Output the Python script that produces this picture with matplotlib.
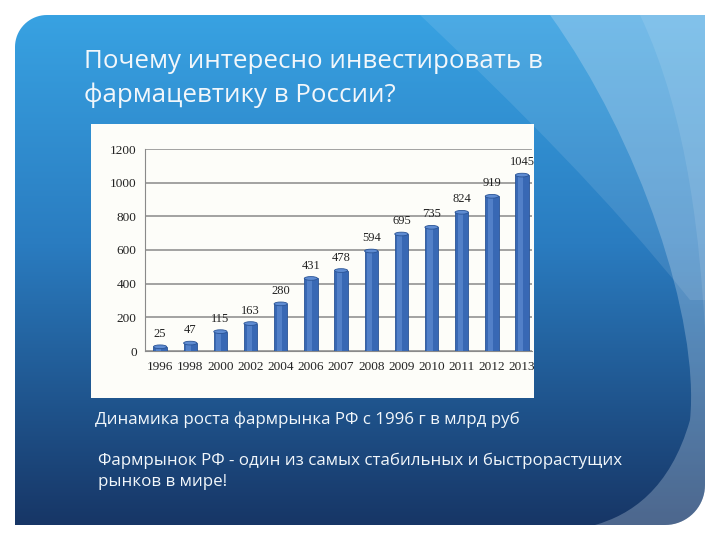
import numpy as np
import matplotlib.pyplot as plt
from matplotlib.patches import Rectangle, Ellipse, PathPatch
from matplotlib.path import Path

years = ["1996", "1998", "2000", "2002", "2004", "2006", "2007",
         "2008", "2009", "2010", "2011", "2012", "2013"]
market = [25, 47, 115, 163, 280, 431, 478, 594, 695, 735, 824, 919, 1045]
y_ticks = [0, 200, 400, 600, 800, 1000, 1200]

title_lines = ["Почему интересно инвестировать в", "фармацевтику в России?"]
caption = "Динамика роста фармрынка РФ с 1996 г в млрд руб"
note_lines = ["Фармрынок РФ - один из самых стабильных и быстрорастущих",
              "рынков в мире!"]

W, H = 720, 540
fig = plt.figure(figsize=(7.2, 5.4), dpi=100)
fig.patch.set_facecolor("white")

# --- slide background (pixel coords, y down) ---
bg = fig.add_axes([0, 0, 1, 1])
bg.set_xlim(0, W)
bg.set_ylim(H, 0)
bg.axis("off")

left, right, top, bottom = 15, 705, 15, 525
r1, r2 = 32, 40
t1 = np.linspace(np.pi, 1.5 * np.pi, 20)
t2 = np.linspace(0, 0.5 * np.pi, 20)
verts = [(left, bottom)]
verts += list(zip(left + r1 + r1 * np.cos(t1), top + r1 + r1 * np.sin(t1)))
verts += [(right, top)]
verts += list(zip(right - r2 + r2 * np.cos(t2), bottom - r2 + r2 * np.sin(t2)))
verts += [(left, bottom)]
slide = Path(verts, closed=True)
slide_patch = PathPatch(slide, facecolor="none", edgecolor="none")
bg.add_patch(slide_patch)

c_top = np.array([0x38, 0xa2, 0xe2]) / 255
c_mid = np.array([0x2a, 0x7c, 0xc0]) / 255
c_bot = np.array([0x17, 0x36, 0x66]) / 255
s = np.linspace(0, 1, 256)[:, None]
grad = np.where(s < 0.45, c_top + (c_mid - c_top) * (s / 0.45),
                c_mid + (c_bot - c_mid) * ((s - 0.45) / 0.55))
img = bg.imshow(grad[:, None, :], extent=[left, right, bottom, top],
                aspect="auto", zorder=0)
img.set_clip_path(slide_patch)

C4 = Path.CURVE4
# upper light band
band1 = Path([(420, 15), (520, 110), (610, 200), (690, 300),
              (705, 300), (705, 15), (420, 15)],
             [Path.MOVETO, C4, C4, C4, Path.LINETO, Path.LINETO, Path.CLOSEPOLY])
p1 = PathPatch(band1, facecolor="white", alpha=0.10, edgecolor="none", zorder=1)
bg.add_patch(p1)
p1.set_clip_path(slide_patch)
# right swoosh
band2 = Path([(550, 15), (640, 140), (700, 320), (690, 420),
              (670, 490), (630, 515), (595, 525),
              (705, 525), (705, 15), (550, 15)],
             [Path.MOVETO, C4, C4, C4, C4, C4, C4,
              Path.LINETO, Path.LINETO, Path.CLOSEPOLY])
p2 = PathPatch(band2, facecolor="#dbe8f5", alpha=0.28, edgecolor="none", zorder=1)
bg.add_patch(p2)
p2.set_clip_path(slide_patch)
band3 = Path([(640, 15), (690, 120), (700, 250), (705, 330),
              (705, 15), (640, 15)],
             [Path.MOVETO, C4, C4, C4, Path.LINETO, Path.CLOSEPOLY])
p3 = PathPatch(band3, facecolor="white", alpha=0.10, edgecolor="none", zorder=1)
bg.add_patch(p3)
p3.set_clip_path(slide_patch)

# chart panel
bg.add_patch(Rectangle((91, 124), 443, 274, facecolor="#fdfdf9",
                       edgecolor="none", zorder=2))

txt = "#f2f7fb"
for i, line in enumerate(title_lines):
    bg.text(84, 62 + 33 * i, line, color=txt, fontsize=18.6, family="Open Sans",
            va="center", ha="left", zorder=3)
bg.text(95, 420, caption, color=txt, fontsize=12.2, family="Open Sans",
        va="center", ha="left", zorder=3)
for i, line in enumerate(note_lines):
    bg.text(98, 461 + 21 * i, line, color=txt, fontsize=12.2, family="Open Sans",
            va="center", ha="left", zorder=3)

# --- chart ---
ax = fig.add_axes([145 / W, 1 - 351 / H, 387 / W, 202 / H])
ax.set_facecolor("none")
x = np.arange(len(years))
bw = 0.44
cap = 22
ax.bar(x, market, width=bw, color="#3868b4", edgecolor="#2a5496",
       linewidth=0.6, zorder=3)
ax.bar(x - 0.05, market, width=0.17, color="#6894da", alpha=0.55,
       linewidth=0, zorder=3)
for xi, v in zip(x, market):
    ax.add_patch(Ellipse((xi, v), bw, cap, facecolor="#5f8cd2",
                         edgecolor="#2a5496", linewidth=0.6, zorder=4))
    ax.add_patch(Ellipse((xi, 0), bw, cap, facecolor="#3868b4",
                         edgecolor="none", zorder=2.9))
    ax.annotate(str(v), (xi, v), xytext=(0, 5), textcoords="offset points",
                ha="center", va="bottom", fontsize=9,
                family="Liberation Serif", color="#222222", zorder=5)

ax.set_xlim(-0.5, 12.33)
ax.set_ylim(0, 1200)
ax.set_yticks(y_ticks)
ax.set_xticks(x)
ax.set_xticklabels(years)
ax.tick_params(axis="both", labelsize=9.5, length=0, colors="#222222")
for lab in ax.get_xticklabels() + ax.get_yticklabels():
    lab.set_family("Liberation Serif")
ax.tick_params(axis="y", pad=6)
ax.tick_params(axis="x", pad=7)
ax.yaxis.grid(True, color="#8a8a8a", linewidth=1.1, zorder=0)
ax.set_axisbelow(True)
for sp in ["top", "right"]:
    ax.spines[sp].set_visible(False)
ax.spines["left"].set_color("#8a8a8a")
ax.spines["bottom"].set_color("#8a8a8a")

fig.savefig("out.png", dpi=100, facecolor=fig.get_facecolor())
